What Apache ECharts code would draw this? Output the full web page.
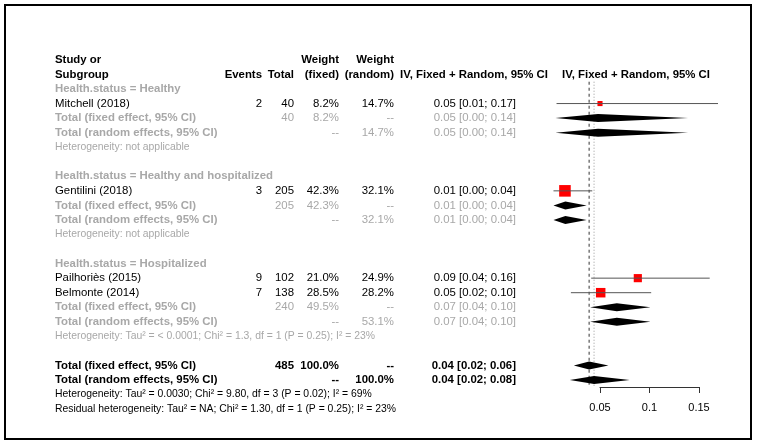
<!DOCTYPE html>
<html><head><meta charset="utf-8">
<script src="https://cdn.jsdelivr.net/npm/echarts@6/dist/echarts.min.js"></script>
<style>html,body{margin:0;padding:0;background:#fff}#c{width:758px;height:443px}</style>
</head><body><div id="c"></div>
<script>
// ---------- data ----------
const groupNames = ["Healthy", "Healthy and hospitalized", "Hospitalized"];
const studies = ["Mitchell (2018)", "Gentilini (2018)", "Pailhoriès (2015)", "Belmonte (2014)"];
const studyGroup = [0, 1, 2, 2];
const events = [2, 3, 9, 7];
const totals = [40, 205, 102, 138];
const studyEst = [0.05, 0.0146, 0.0882, 0.0507];
const studyLow = [0.0061, 0.0030, 0.0411, 0.0206];
const studyHigh = [0.1692, 0.0422, 0.1608, 0.1017];
const weightFixed = [8.2, 42.3, 21.0, 28.5];
const weightRandom = [14.7, 32.1, 24.9, 28.2];
const studyCI = ["0.05 [0.01; 0.17]", "0.01 [0.00; 0.04]", "0.09 [0.04; 0.16]", "0.05 [0.02; 0.10]"];

const groupTotal = [40, 205, 240];
const groupWeightFixed = [8.2, 42.3, 49.5];
const groupWeightRandom = [14.7, 32.1, 53.1];
const groupFixedEst = [0.048, 0.015, 0.067];
const groupFixedLow = [0.005, 0.003, 0.040];
const groupFixedHigh = [0.139, 0.0365, 0.101];
const groupRandomEst = [0.048, 0.015, 0.067];
const groupRandomLow = [0.005, 0.003, 0.040];
const groupRandomHigh = [0.139, 0.0365, 0.101];
const groupFixedCI = ["0.05 [0.00; 0.14]", "0.01 [0.00; 0.04]", "0.07 [0.04; 0.10]"];
const groupRandomCI = ["0.05 [0.00; 0.14]", "0.01 [0.00; 0.04]", "0.07 [0.04; 0.10]"];
const groupHet = [
  "Heterogeneity: not applicable",
  "Heterogeneity: not applicable",
  "Heterogeneity: Tau² = < 0.0001; Chi² = 1.3, df = 1 (P = 0.25); I² = 23%"
];

const overallTotal = 485;
const overallFixed = [0.039, 0.0236, 0.0585];   // est, low, high
const overallRandom = [0.044, 0.0195, 0.080];
const overallFixedCI = "0.04 [0.02; 0.06]";
const overallRandomCI = "0.04 [0.02; 0.08]";
const overallHet = "Heterogeneity: Tau² = 0.0030; Chi² = 9.80, df = 3 (P = 0.02); I² = 69%";
const residualHet = "Residual heterogeneity: Tau² = NA; Chi² = 1.30, df = 1 (P = 0.25); I² = 23%";

const axisTicks = [0.05, 0.1, 0.15];
const effectLabel = "IV, Fixed + Random, 95% CI";

// ---------- build rows ----------
const pct = v => v.toFixed(1) + "%";
const HEAD = 2;
const rows = [];
rows.push({kind: "head1", label: "Study or", wf: "Weight", wr: "Weight"});
rows.push({kind: "head2", label: "Subgroup", events: "Events", total: "Total", wf: "(fixed)", wr: "(random)", cihead: effectLabel, plot: effectLabel});
const studyRows = [], diamondRows = [];
groupNames.forEach((g, gi) => {
  rows.push({kind: "group", label: "Health.status = " + g});
  studies.forEach((s, si) => {
    if (studyGroup[si] !== gi) return;
    studyRows.push([studyEst[si], rows.length - HEAD, studyLow[si], studyHigh[si], weightFixed[si]]);
    rows.push({kind: "study", label: s, events: String(events[si]), total: String(totals[si]),
      wf: pct(weightFixed[si]), wr: pct(weightRandom[si]), ci: studyCI[si]});
  });
  diamondRows.push([groupFixedEst[gi], rows.length - HEAD, groupFixedLow[gi], groupFixedHigh[gi]]);
  rows.push({kind: "sub", label: "Total (fixed effect, 95% CI)", total: String(groupTotal[gi]),
    wf: pct(groupWeightFixed[gi]), wr: "--", ci: groupFixedCI[gi]});
  diamondRows.push([groupRandomEst[gi], rows.length - HEAD, groupRandomLow[gi], groupRandomHigh[gi]]);
  rows.push({kind: "sub", label: "Total (random effects, 95% CI)", total: "",
    wf: "--", wr: pct(groupWeightRandom[gi]), ci: groupRandomCI[gi]});
  rows.push({kind: "het", label: groupHet[gi]});
  rows.push({kind: "blank"});
});
diamondRows.push([overallFixed[0], rows.length - HEAD, overallFixed[1], overallFixed[2]]);
rows.push({kind: "total", label: "Total (fixed effect, 95% CI)", total: String(overallTotal), wf: "100.0%", wr: "--", ci: overallFixedCI});
const lastRow = rows.length - HEAD;
diamondRows.push([overallRandom[0], lastRow, overallRandom[1], overallRandom[2]]);
rows.push({kind: "total", label: "Total (random effects, 95% CI)", total: "", wf: "--", wr: "100.0%", ci: overallRandomCI});
rows.push({kind: "ohet", label: overallHet});
rows.push({kind: "ohet", label: residualHet});

// ---------- styling ----------
const FONT = "'Liberation Sans', Arial, Helvetica, sans-serif";
const GRAY = "#a8a8a8";
const FS = 11.4, FS_SMALL = 10.4;
const columns = [
  {key: "label", x: 55, align: "left"},
  {key: "events", x: 262, align: "right"},
  {key: "total", x: 294, align: "right"},
  {key: "wf", x: 339, align: "right"},
  {key: "wr", x: 394, align: "right"},
  {key: "ci", x: 516, align: "right"},
  {key: "cihead", x: 474, align: "center"},
  {key: "plot", x: 636, align: "center"}
];
function cellStyle(kind, key) {
  switch (kind) {
    case "head1": case "head2": return {color: "#000", bold: true, size: FS};
    case "group": return {color: GRAY, bold: true, size: FS};
    case "study": return {color: "#000", bold: false, size: FS};
    case "sub": return {color: GRAY, bold: key === "label", size: FS};
    case "het": return {color: GRAY, bold: false, size: FS_SMALL};
    case "total": return {color: "#000", bold: true, size: FS};
    case "ohet": return {color: "#000", bold: false, size: FS_SMALL};
  }
  return {color: "#000", bold: false, size: FS};
}

const chart = echarts.init(document.getElementById("c"), null, {renderer: "canvas"});
const ROW_PX = 14.55;
const option = {
  backgroundColor: "#fff",
  animation: false,
  graphic: [{type: "rect", shape: {x: 5, y: 5, width: 746, height: 434},
    style: {fill: null, stroke: "#000", lineWidth: 2}, silent: true}],
  grid: [
    {left: 550.5, width: 198, top: 89 - ROW_PX, height: ROW_PX * 24},
    {left: 600, width: 99, top: 381, height: 6}
  ],
  xAxis: [
    {gridIndex: 0, type: "value", min: 0, max: 0.2, show: false},
    {gridIndex: 1, type: "value", min: axisTicks[0], max: axisTicks[axisTicks.length - 1], interval: 0.05,
      axisLine: {show: true, lineStyle: {color: "#333", width: 1}},
      axisTick: {show: true, length: 6, lineStyle: {color: "#333"}},
      axisLabel: {color: "#000", fontSize: 11, fontFamily: FONT, margin: 15,
        formatter: v => String(+(+v).toFixed(2))},
      splitLine: {show: false}}
  ],
  yAxis: [
    {gridIndex: 0, type: "value", min: -1, max: 23, inverse: true, show: false},
    {gridIndex: 1, type: "value", min: 0, max: 1, show: false}
  ],
  series: [
    { // table text
      type: "custom", xAxisIndex: 0, yAxisIndex: 0, clip: false, silent: true,
      data: rows.map((r, i) => [0, i - HEAD]),
      renderItem: (params, api) => {
        const r = rows[params.dataIndex];
        const y = api.coord([0, api.value(1)])[1];
        const children = [];
        columns.forEach(c => {
          const t = r[c.key];
          if (!t) return;
          const st = cellStyle(r.kind, c.key);
          children.push({type: "text", x: c.x, y: y, style: {
            text: t, fill: st.color, textAlign: c.align, textVerticalAlign: "middle",
            font: (st.bold ? "bold " : "") + st.size + "px " + FONT}});
        });
        return {type: "group", children};
      }
    },
    { // reference lines
      type: "custom", xAxisIndex: 0, yAxisIndex: 0, clip: false, silent: true,
      data: [[overallFixed[0], 0], [overallRandom[0], 1]],
      renderItem: (params, api) => {
        const p0 = api.coord([api.value(0), -0.5]);
        const p1 = api.coord([api.value(0), lastRow + 0.5]);
        const dashed = api.value(1) === 0;
        return {type: "line", shape: {x1: p0[0], y1: p0[1], x2: p1[0], y2: p1[1]},
          style: {stroke: dashed ? "#333" : "#999", lineWidth: 1, lineDash: dashed ? [3, 3] : [1, 2]}};
      }
    },
    { // study squares + CI
      type: "custom", xAxisIndex: 0, yAxisIndex: 0, clip: false, silent: true,
      data: studyRows,
      renderItem: (params, api) => {
        const c = api.coord([api.value(0), api.value(1)]);
        const lo = api.coord([api.value(2), api.value(1)]);
        const hi = api.coord([api.value(3), api.value(1)]);
        const s = 1.78 * Math.sqrt(api.value(4));
        return {type: "group", children: [
          {type: "rect", shape: {x: c[0] - s / 2, y: c[1] - s / 2, width: s, height: s}, style: {fill: "#ff0000"}},
          {type: "line", shape: {x1: lo[0], y1: c[1], x2: hi[0], y2: c[1]}, style: {stroke: "#555", lineWidth: 1}}
        ]};
      }
    },
    { // diamonds
      type: "custom", xAxisIndex: 0, yAxisIndex: 0, clip: false, silent: true,
      data: diamondRows,
      renderItem: (params, api) => {
        const c = api.coord([api.value(0), api.value(1)]);
        const lo = api.coord([api.value(2), api.value(1)]);
        const hi = api.coord([api.value(3), api.value(1)]);
        return {type: "polygon", shape: {points: [[lo[0], c[1]], [c[0], c[1] - 4], [hi[0], c[1]], [c[0], c[1] + 4]]},
          style: {fill: "#000"}};
      }
    }
  ]
};
chart.setOption(option);
</script></body></html>
